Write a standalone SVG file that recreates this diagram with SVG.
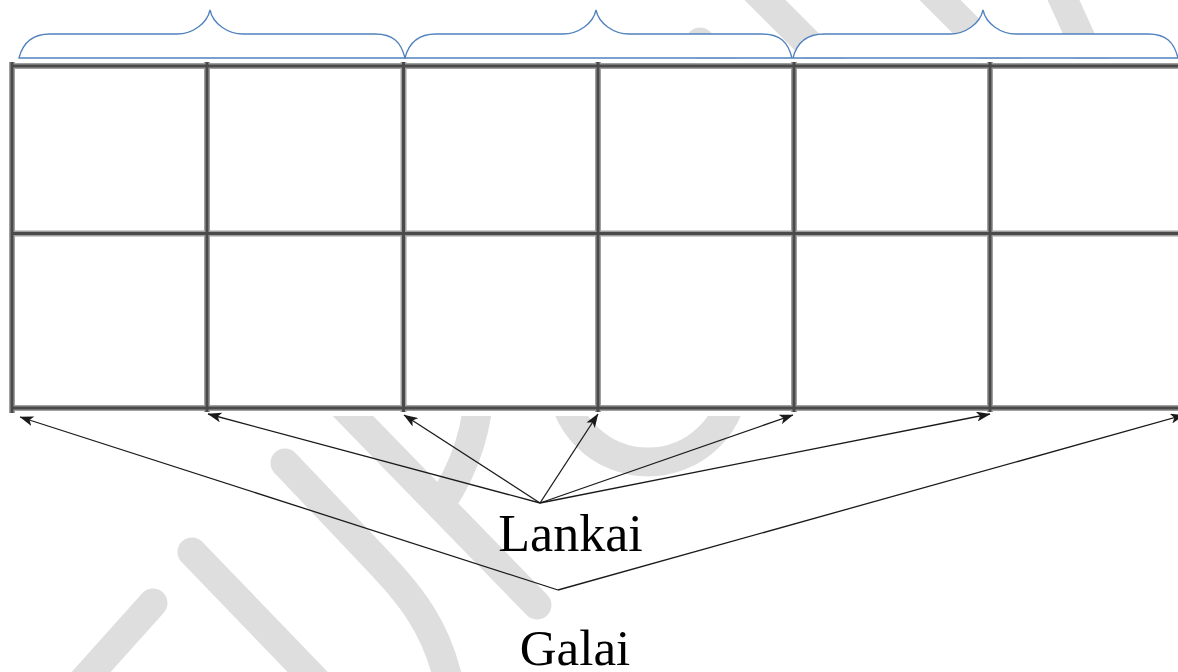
<svg xmlns="http://www.w3.org/2000/svg" width="1178" height="672" viewBox="0 0 1178 672">
  <style>
    .wm { fill: none; stroke: #dedede; stroke-width: 29; stroke-linecap: round; stroke-linejoin: round; }
    .brace { fill: #ffffff; stroke: #4f81bd; stroke-width: 1.3; }
    .gh { stroke: #a0a0a0; stroke-width: 6; }
    .gd { stroke: #4a4a4a; stroke-width: 3; }
    .conn { fill: none; stroke: #1a1a1a; stroke-width: 1.3; }
    .lbl { font-family: "Liberation Serif", "Times New Roman", serif; fill: #000000; text-anchor: middle; }
  </style>
  <defs>
    <marker id="ah" viewBox="0 0 14 10" refX="13.5" refY="5" markerWidth="14" markerHeight="10" markerUnits="userSpaceOnUse" orient="auto">
      <path d="M0,0 L14,5 L0,10 L3.5,5 Z" fill="#1a1a1a"/>
    </marker>
  </defs>
  <rect x="0" y="0" width="1178" height="672" fill="#ffffff"/>

  <g id="watermark">
    <path class="wm" d="M700,42 L800,142"/>
    <path class="wm" d="M740,-25 L840,75"/>
    <path class="wm" d="M915,-25 L1015,75"/>
    <path class="wm" d="M1052,-25 L1100,80"/>
    <path class="wm" d="M240,300 L537,605"/>
    <path class="wm" d="M480,380 Q478,450 440,505"/>
    <path class="wm" d="M285,463 L360,542 C400,585 440,620 452,700"/>
    <path class="wm" d="M192,552 L325,690"/>
    <path class="wm" d="M153,603 L75,690"/>
    <circle class="wm" cx="648" cy="375" r="87"/>
  </g>

  <g id="braces">
    <path class="brace" d="M19,58 C22,46 30,34 50,34 L177,34 C192,34 207,24 210,10 C213,24 228,34 243,34 L375,34 C393,34 401,42 405,58 Z"/>
    <path class="brace" d="M405,58 C408,46 416,34 436,34 L563,34 C578,34 593,24 596,10 C599,24 614,34 629,34 L762,34 C780,34 788,42 792,58 Z"/>
    <path class="brace" d="M793,58 C796,46 804,34 824,34 L950,34 C965,34 980,24 983,10 C986,24 1001,34 1016,34 L1148,34 C1166,34 1174,42 1178,58 Z"/>
  </g>

  <g id="grid">
    <rect x="0" y="59" width="1178" height="357" fill="#ffffff"/>
    <g class="gh">
      <line x1="12" y1="66" x2="1178" y2="66"/>
      <line x1="12" y1="233.5" x2="1178" y2="233.5"/>
      <line x1="12" y1="408" x2="1178" y2="408"/>
      <line x1="12" y1="62" x2="12" y2="413"/>
      <line x1="207" y1="62" x2="207" y2="412"/>
      <line x1="403.5" y1="62" x2="403.5" y2="412"/>
      <line x1="598" y1="62" x2="598" y2="412"/>
      <line x1="794" y1="62" x2="794" y2="412"/>
      <line x1="990" y1="62" x2="990" y2="412"/>
    </g>
    <g class="gd">
      <line x1="12" y1="66" x2="1178" y2="66"/>
      <line x1="12" y1="233.5" x2="1178" y2="233.5"/>
      <line x1="12" y1="408" x2="1178" y2="408"/>
      <line x1="12" y1="62" x2="12" y2="413"/>
      <line x1="207" y1="62" x2="207" y2="412"/>
      <line x1="403.5" y1="62" x2="403.5" y2="412"/>
      <line x1="598" y1="62" x2="598" y2="412"/>
      <line x1="794" y1="62" x2="794" y2="412"/>
      <line x1="990" y1="62" x2="990" y2="412"/>
    </g>
  </g>

  <g id="connectors">
    <line class="conn" x1="540" y1="503" x2="208" y2="414" marker-end="url(#ah)"/>
    <line class="conn" x1="540" y1="503" x2="404" y2="415" marker-end="url(#ah)"/>
    <line class="conn" x1="540" y1="503" x2="598" y2="414" marker-end="url(#ah)"/>
    <line class="conn" x1="540" y1="503" x2="793" y2="415" marker-end="url(#ah)"/>
    <line class="conn" x1="540" y1="503" x2="990" y2="414" marker-end="url(#ah)"/>
    <line class="conn" x1="558" y1="590" x2="20" y2="417" marker-end="url(#ah)"/>
    <line class="conn" x1="558" y1="590" x2="1184" y2="415" marker-end="url(#ah)"/>
  </g>

  <g id="node-lankai">
    <text class="lbl" x="570.5" y="551" font-size="52">Lankai</text>
  </g>
  <g id="node-galai">
    <text class="lbl" x="575" y="665" font-size="51">Galai</text>
  </g>
</svg>
